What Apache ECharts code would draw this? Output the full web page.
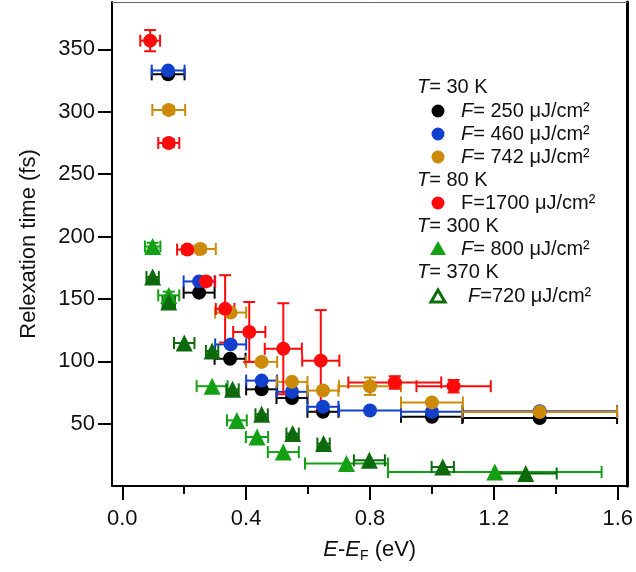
<!DOCTYPE html>
<html>
<head>
<meta charset="utf-8">
<script src="https://cdn.jsdelivr.net/npm/echarts@6/dist/echarts.min.js"></script>
<style>
  html, body { margin: 0; padding: 0; background: #fff; }
  #chart { width: 636px; height: 572px; }
</style>
</head>
<body>
<div id="chart"></div>
<script>
// Hot-carrier relaxation time versus energy above the Fermi level.
// Each group: energy (eV), relaxation time (fs), energy error, time error.

// T = 30 K, F = 250 µJ/cm²
const blackX    = [0.148, 0.248, 0.348, 0.45, 0.548, 0.648, 1.0, 1.348];
const blackY    = [330, 155, 102, 77.5, 70.5, 59.5, 55.5, 54.5];
const blackXErr = [0.053, 0.05, 0.05, 0.05, 0.05, 0.05, 0.1, 0.25];
const blackYErr = [0, 0, 0, 0, 0, 0, 0, 0];

// T = 30 K, F = 460 µJ/cm²
const blueX    = [0.148, 0.248, 0.35, 0.45, 0.548, 0.648, 0.8, 1.0, 1.348];
const blueY    = [333, 164, 113.5, 84.5, 75.5, 63.5, 60.5, 59.5, 60];
const blueXErr = [0.053, 0.05, 0.05, 0.05, 0.05, 0.05, 0.1, 0.1, 0.25];
const blueYErr = [0, 0, 0, 0, 0, 0, 0, 0, 0];

// T = 30 K, F = 742 µJ/cm²
const goldX    = [0.15, 0.252, 0.35, 0.45, 0.548, 0.648, 0.8, 1.0, 1.348];
const goldY    = [301.5, 190, 139, 99.5, 83.5, 76.5, 80, 67, 59.3];
const goldXErr = [0.053, 0.05, 0.05, 0.05, 0.05, 0.05, 0.1, 0.1, 0.25];
const goldYErr = [3, 3, 0, 0, 0, 0, 7, 0, 0];

// T = 80 K, F = 1700 µJ/cm²
const redX    = [0.09, 0.15, 0.21, 0.27, 0.332, 0.41, 0.52, 0.641, 0.88, 1.07];
const redY    = [357, 275, 189.5, 164, 142, 123.5, 110, 100.5, 83, 80];
const redXErr = [0.032, 0.034, 0.033, 0.03, 0.03, 0.052, 0.06, 0.06, 0.15, 0.12];
const redYErr = [8.5, 3, 3, 3, 27, 24, 36.5, 40.5, 5, 5];

// T = 300 K, F = 800 µJ/cm²
const greenX    = [0.098, 0.15, 0.29, 0.37, 0.435, 0.52, 0.724, 1.203];
const greenY    = [192, 152.8, 80, 52.6, 39.3, 27.2, 18, 11.2];
const greenXErr = [0.025, 0.034, 0.05, 0.032, 0.036, 0.05, 0.134, 0.345];
const greenYErr = [3, 3, 0, 0, 0, 0, 0, 0];

// T = 370 K, F = 720 µJ/cm²
const darkX    = [0.098, 0.15, 0.2, 0.29, 0.356, 0.45, 0.55, 0.65, 0.798, 1.035, 1.303];
const darkY    = [167.5, 147.5, 114.6, 108.2, 77.5, 57.5, 42, 34, 20.6, 15.2, 10];
const darkXErr = [0.02, 0.02, 0.033, 0.02, 0.02, 0.02, 0.02, 0.02, 0.05, 0.036, 0.1];
const darkYErr = [0, 0, 0, 0, 0, 0, 0, 0, 0, 0, 0];

const xTicks = [0, 0.4, 0.8, 1.2, 1.6];
const xMinorTicks = [0.2, 0.6, 1.0, 1.4];
const yTicks = [50, 100, 150, 200, 250, 300, 350];

const FONT = '"Liberation Sans", Arial, Helvetica, sans-serif';
const C_BLACK = '#000000';
const C_BLUE = '#1140cc';
const C_GOLD = '#cc8a08';
const C_RED = '#ff0a0a';
const C_GREEN = '#14a014';
const C_DARK = '#0c6a0c';

function rows(xs, ys, xe, ye) {
  return xs.map((x, i) => [x, ys[i], xe[i], ye[i]]);
}

// Horizontal and vertical error bars with end caps.
function errorBars(xs, ys, xe, ye, color) {
  return {
    type: 'custom',
    xAxisIndex: 0,
    yAxisIndex: 0,
    silent: true,
    data: rows(xs, ys, xe, ye),
    encode: { x: 0, y: 1 },
    renderItem: function (params, api) {
      const x = api.value(0), y = api.value(1);
      const dx = api.value(2), dy = api.value(3);
      const cap = 6;
      const style = { stroke: color, lineWidth: 2, fill: null };
      const children = [];
      if (dx > 0) {
        const l = api.coord([x - dx, y]);
        const r = api.coord([x + dx, y]);
        children.push({ type: 'line', shape: { x1: l[0], y1: l[1], x2: r[0], y2: r[1] }, style: style });
        children.push({ type: 'line', shape: { x1: l[0], y1: l[1] - cap, x2: l[0], y2: l[1] + cap }, style: style });
        children.push({ type: 'line', shape: { x1: r[0], y1: r[1] - cap, x2: r[0], y2: r[1] + cap }, style: style });
      }
      if (dy > 0) {
        const t = api.coord([x, y + dy]);
        const b = api.coord([x, y - dy]);
        children.push({ type: 'line', shape: { x1: t[0], y1: t[1], x2: b[0], y2: b[1] }, style: style });
        children.push({ type: 'line', shape: { x1: t[0] - cap, y1: t[1], x2: t[0] + cap, y2: t[1] }, style: style });
        children.push({ type: 'line', shape: { x1: b[0] - cap, y1: b[1], x2: b[0] + cap, y2: b[1] }, style: style });
      }
      return { type: 'group', children: children };
    }
  };
}

function points(xs, ys, color, symbol, size) {
  return {
    type: 'scatter',
    xAxisIndex: 0,
    yAxisIndex: 0,
    silent: true,
    symbol: symbol,
    symbolSize: size,
    data: xs.map((x, i) => [x, ys[i]]),
    itemStyle: { color: color, opacity: 1 }
  };
}

const series = [
  errorBars(blackX, blackY, blackXErr, blackYErr, C_BLACK),
  points(blackX, blackY, C_BLACK, 'circle', 14),
  errorBars(blueX, blueY, blueXErr, blueYErr, C_BLUE),
  points(blueX, blueY, C_BLUE, 'circle', 14),
  errorBars(goldX, goldY, goldXErr, goldYErr, C_GOLD),
  points(goldX, goldY, C_GOLD, 'circle', 14),
  errorBars(redX, redY, redXErr, redYErr, C_RED),
  points(redX, redY, C_RED, 'circle', 14),
  errorBars(greenX, greenY, greenXErr, greenYErr, C_GREEN),
  points(greenX, greenY, C_GREEN, 'triangle', 17),
  errorBars(darkX, darkY, darkXErr, darkYErr, C_DARK),
  points(darkX, darkY, C_DARK, 'triangle', 17)
];

// Legend block: temperature headings with fluence entries below.
const LX = 417, MX = 438, TX = 461;
const legendRows = [
  { y: 87,  text: '{i|T}= 30 K', head: true },
  { y: 111, text: '{i|F}= 250 μJ/cm²', mark: 'circle', color: C_BLACK },
  { y: 134, text: '{i|F}= 460 μJ/cm²', mark: 'circle', color: C_BLUE },
  { y: 157, text: '{i|F}= 742 μJ/cm²', mark: 'circle', color: C_GOLD },
  { y: 180, text: '{i|T}= 80 K', head: true },
  { y: 203, text: 'F=1700 μJ/cm²', mark: 'circle', color: C_RED },
  { y: 226, text: '{i|T}= 300 K', head: true },
  { y: 249, text: '{i|F}= 800 μJ/cm²', mark: 'tri', color: C_GREEN },
  { y: 272, text: '{i|T}= 370 K', head: true },
  { y: 296, text: '{i|F}=720 μJ/cm²', mark: 'hollow', color: C_DARK, dx: 7 }
];
const graphic = [];
legendRows.forEach(function (r) {
  graphic.push({
    type: 'text',
    x: r.head ? LX : TX + (r.dx || 0),
    y: r.y,
    style: {
      text: r.text,
      fill: '#111',
      font: '20px ' + FONT,
      verticalAlign: 'middle',
      rich: { i: { fontStyle: 'italic', fontSize: 20, fontFamily: FONT, fill: '#111' } }
    }
  });
  if (r.mark === 'circle') {
    graphic.push({ type: 'circle', shape: { cx: MX, cy: r.y, r: 6.5 }, style: { fill: r.color } });
  } else if (r.mark === 'tri') {
    graphic.push({ type: 'polygon', shape: { points: [[MX, r.y - 8], [MX + 8, r.y + 6], [MX - 8, r.y + 6]] }, style: { fill: r.color } });
  } else if (r.mark === 'hollow') {
    graphic.push({ type: 'polygon', shape: { points: [[MX, r.y - 6], [MX + 7, r.y + 6], [MX - 7, r.y + 6]] }, style: { fill: '#fff', stroke: r.color, lineWidth: 3, lineJoin: 'miter' } });
  }
});

const chart = echarts.init(document.getElementById('chart'), null, { renderer: 'canvas' });
chart.setOption({
  backgroundColor: '#ffffff',
  animation: false,
  grid: { left: 112, right: 8, top: 2, bottom: 86, containLabel: false },
  xAxis: [
    {
      type: 'value', position: 'bottom', min: -0.0333, max: 1.6316,
      name: '{i|E}-{i|E}{sub|F} (eV)', nameLocation: 'middle', nameGap: 51,
      nameTextStyle: {
        fontFamily: FONT, fontSize: 22, color: '#111',
        rich: {
          i: { fontStyle: 'italic', fontSize: 22, fontFamily: FONT, color: '#111' },
          sub: { fontSize: 14, fontFamily: FONT, color: '#111', verticalAlign: 'bottom', padding: [12, 0, 0, 0] }
        }
      },
      axisLine: { show: true, onZero: false, lineStyle: { color: '#000', width: 2 } },
      axisTick: { show: true, customValues: xTicks, length: 14, inside: false, lineStyle: { color: '#000', width: 2 } },
      axisLabel: { show: true, customValues: xTicks, formatter: v => v.toFixed(1), fontFamily: FONT, fontSize: 22, color: '#111', margin: 22 },
      splitLine: { show: false }
    },
    {
      type: 'value', position: 'bottom', min: -0.0333, max: 1.6316,
      axisLine: { show: false },
      axisTick: { show: true, customValues: xMinorTicks, length: 8, lineStyle: { color: '#000', width: 2 } },
      axisLabel: { show: false, customValues: xMinorTicks },
      splitLine: { show: false }
    },
    {
      type: 'value', position: 'top', min: -0.0333, max: 1.6316,
      axisLine: { show: true, onZero: false, lineStyle: { color: '#666', width: 1 } },
      axisTick: { show: false }, axisLabel: { show: false }, splitLine: { show: false }
    }
  ],
  yAxis: [
    {
      type: 'value', position: 'left', min: 0, max: 388,
      name: 'Relexation time (fs)', nameLocation: 'middle', nameGap: 72, nameRotate: 90,
      nameTextStyle: { fontFamily: FONT, fontSize: 22, color: '#111' },
      axisLine: { show: true, onZero: false, lineStyle: { color: '#000', width: 2 } },
      axisTick: { show: true, customValues: yTicks, length: 14, lineStyle: { color: '#000', width: 2 } },
      axisLabel: { show: true, customValues: yTicks, fontFamily: FONT, fontSize: 22, color: '#111', margin: 17 },
      splitLine: { show: false }
    },
    {
      type: 'value', position: 'right', min: 0, max: 388,
      axisLine: { show: true, onZero: false, lineStyle: { color: '#000', width: 3 } },
      axisTick: { show: false }, axisLabel: { show: false }, splitLine: { show: false }
    }
  ],
  graphic: graphic,
  series: series
});
</script>
</body>
</html>
